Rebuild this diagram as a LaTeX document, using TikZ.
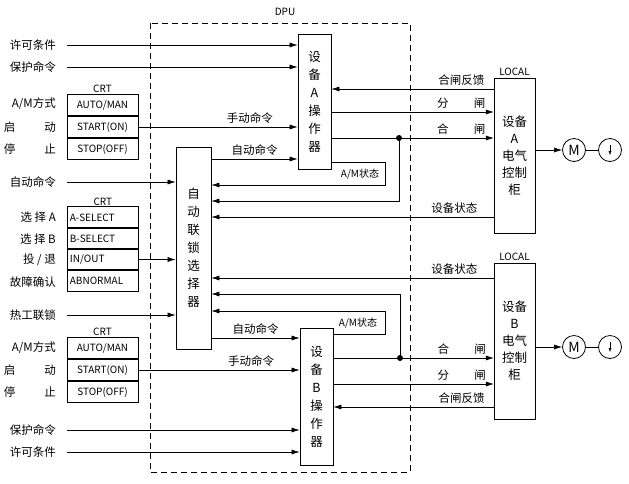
\documentclass[tikz,border=0pt]{standalone}
\usepackage{fontspec}
\setmainfont{Noto Sans CJK SC}
\usetikzlibrary{arrows.meta,positioning}
\newcommand{\spread}[2]{\makebox[52pt][s]{#1\hfill #2}}
\begin{document}
\begin{tikzpicture}[
        x=1pt, y=-1pt,
        font=\fontsize{11.5}{13}\selectfont,
        crt/.style={rectangle, draw, thick, minimum width=71pt, minimum height=21.5pt, inner sep=1pt, font=\fontsize{10}{11}\selectfont},
        op/.style={rectangle, draw, thick, inner sep=0pt, align=center, font=\fontsize{12.5}{18}\selectfont},
        loc/.style={rectangle, draw, inner sep=0pt, minimum width=41pt, align=center, font=\fontsize{12.5}{17}\selectfont},
        lbl/.style={anchor=east, inner sep=0pt},
        tag/.style={font=\fontsize{10}{11}\selectfont, inner sep=1pt},
        arrow/.style={-{Latex[length=8pt,width=5pt]}, semithick},
        wire/.style={semithick}
    ]
        \useasboundingbox (0,0) rectangle (629,483);
        % DPU frame
        \draw[dashed, dash pattern=on 6pt off 4pt, semithick] (150,23) rectangle (410,472);
        \node[tag] (dpu) at (285,12) {DPU};

        % operators and selector
        \node[op, minimum width=33pt, minimum height=135pt] (opA) at (314.5,101.5) {设\\备\\A\\操\\作\\器};
        \node[op, minimum width=33pt, minimum height=137pt] (opB) at (316.5,396.5) {设\\备\\B\\操\\作\\器};
        \node[op, minimum width=35pt, minimum height=202pt] (sel) at (193.5,248) {自\\动\\联\\锁\\选\\择\\器};

        % local cabinets
        \node[loc, minimum height=155pt] (locA) at (514.5,155.5) {设备\\A\\电气\\控制\\柜};
        \node[tag, above=1pt of locA] {LOCAL};
        \node[loc, minimum height=156pt] (locB) at (514.5,341) {设备\\B\\电气\\控制\\柜};
        \node[tag, above=1pt of locB] {LOCAL};

        % CRT panels
        \node[crt] (amA) at (102.5,105) {AUTO/MAN};
        \node[crt] (onA) at (102.5,127) {START(ON)};
        \node[crt] (offA) at (102.5,149) {STOP(OFF)};
        \node[tag, above=0pt of amA] {CRT};
        \node[crt, anchor=west, text width=66pt] (sa) at (67,217.5) {A-SELECT};
        \node[crt, anchor=west, text width=66pt] (sb) at (67,238.5) {B-SELECT};
        \node[crt, anchor=west, text width=66pt] (io) at (67,259.5) {IN/OUT};
        \node[crt, anchor=west, text width=66pt] (ab) at (67,280.5) {ABNORMAL};
        \node[tag, above=0pt of sa] {CRT};
        \node[crt] (amB) at (102.5,348) {AUTO/MAN};
        \node[crt] (onB) at (102.5,370) {START(ON)};
        \node[crt] (offB) at (102.5,392) {STOP(OFF)};
        \node[tag, above=0pt of amB] {CRT};

        % left labels
        \node[lbl] (okA) at (56,45) {许可条件};
        \node[lbl] (prA) at (56,67) {保护命令};
        \node[lbl] at (56,104) {A/M方式};
        \node[lbl] at (56,127) {\spread{启}{动}};
        \node[lbl] at (56,149) {\spread{停}{止}};
        \node[lbl] (auto) at (56,182) {自动命令};
        \node[lbl] at (56,217) {选 择 A};
        \node[lbl] at (56,239) {选 择 B};
        \node[lbl] at (56,260) {投 / 退};
        \node[lbl] at (56,282) {故障确认};
        \node[lbl] (heat) at (56,315) {热工联锁};
        \node[lbl] at (56,348) {A/M方式};
        \node[lbl] at (56,370) {\spread{启}{动}};
        \node[lbl] at (56,392) {\spread{停}{止}};
        \node[lbl] (prB) at (56,430) {保护命令};
        \node[lbl] (okB) at (56,452) {许可条件};

        % inputs
        \draw[arrow] ([xshift=11pt]okA.east) -- (opA.west |- okA.east);
        \draw[arrow] ([xshift=11pt]prA.east) -- (opA.west |- prA.east);
        \draw[arrow] (onA.east) -- (opA.west |- onA.east) node[pos=0.7, above] {手动命令};
        \draw[arrow] (sel.east |- 0,159) -- (opA.west |- 0,159) node[midway, above] {自动命令};
        \draw[arrow] ([xshift=11pt]auto.east) -- (sel.west |- auto.east);
        \draw[arrow] (io.east) -- (sel.west |- io.east);
        \draw[arrow] ([xshift=11pt]heat.east) -- (sel.west |- heat.east);
        \draw[arrow] (sel.east |- 0,338) -- (opB.west |- 0,338) node[midway, above] {自动命令};
        \draw[arrow] (onB.east) -- (opB.west |- onB.east) node[pos=0.7, above] {手动命令};
        \draw[arrow] ([xshift=11pt]prB.east) -- (opB.west |- prB.east);
        \draw[arrow] ([xshift=11pt]okB.east) -- (opB.west |- okB.east);

        % device A links
        \draw[arrow] (locA.west |- 0,89) -- (opA.east |- 0,89) node[pos=0.2, above] {合闸反馈};
        \draw[arrow] (opA.east |- 0,112) -- (locA.west |- 0,112) node[pos=0.8, above] {分\hspace{2.2em}闸};
        \coordinate (dotA) at (399,138);
        \draw[arrow] (opA.east |- dotA) -- (locA.west |- dotA) node[pos=0.8, above] {合\hspace{2.2em}闸};
        \fill (dotA) circle (3pt);
        \draw[arrow] (dotA) -- (399,201) -- (sel.east |- 0,201);
        \draw[arrow] (opA.east |- 0,162) -- (385,162) -- (385,185) -- (sel.east |- 0,185);
        \node[tag] at (360,174) {A/M状态};
        \draw[arrow] (locA.west |- 0,217) -- (sel.east |- 0,217) node[pos=0.14, above] {设备状态};

        % device B links
        \draw[arrow] (locB.west |- 0,278) -- (sel.east |- 0,278) node[pos=0.14, above] {设备状态};
        \coordinate (dotB) at (400,358);
        \draw[arrow] (dotB) -- (400,294) -- (sel.east |- 0,294);
        \draw[arrow] (opB.east |- 0,334) -- (385,334) -- (385,311) -- (sel.east |- 0,311);
        \node[tag] at (358,323) {A/M状态};
        \draw[arrow] (opB.east |- dotB) -- (locB.west |- dotB) node[pos=0.8, above] {合\hspace{2.2em}闸};
        \fill (dotB) circle (3pt);
        \draw[arrow] (opB.east |- 0,384) -- (locB.west |- 0,384) node[pos=0.8, above] {分\hspace{2.2em}闸};
        \draw[arrow] (locB.west |- 0,407) -- (opB.east |- 0,407) node[pos=0.2, above] {合闸反馈};

        % motors
        \foreach \dev/\y in {A/150, B/347} {
            \node[circle, draw, thick, minimum size=23pt, inner sep=0pt, font=\fontsize{14}{15}\selectfont] (mot\dev) at (574,\y) {M};
            \node[circle, draw, thick, minimum size=23pt, inner sep=0pt] (ind\dev) at (610,\y) {};
            \draw[arrow] (loc\dev.east |- mot\dev) -- (mot\dev);
            \draw[wire] (mot\dev) -- (ind\dev);
            \draw[-{Latex[length=4pt,width=3pt]}] ([yshift=5pt]ind\dev.center) -- ([yshift=-5pt]ind\dev.center);
        }
    \end{tikzpicture}
\end{document}
